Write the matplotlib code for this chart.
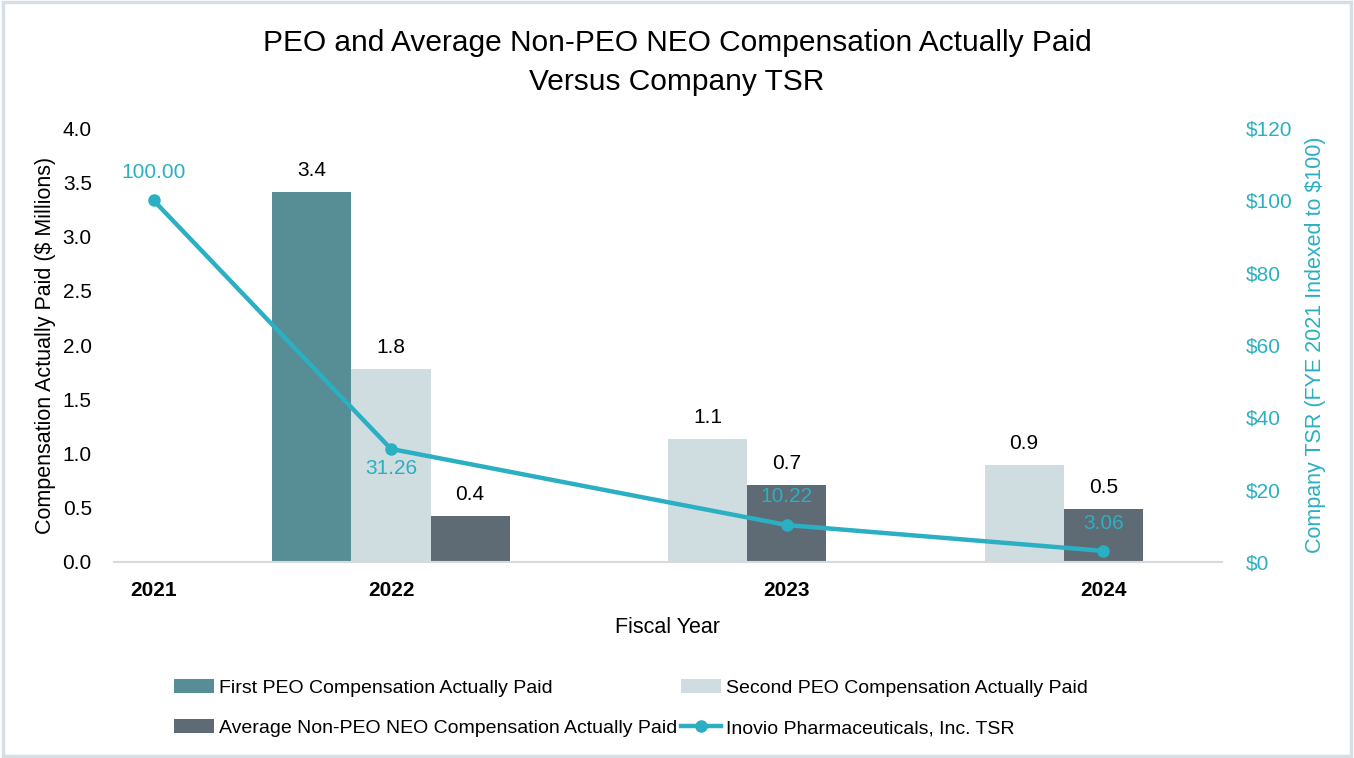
import matplotlib.pyplot as plt
from matplotlib.patches import Rectangle

plt.rcParams['font.family'] = ['Liberation Sans', 'DejaVu Sans']

# Data
years = ['2021', '2022', '2023', '2024']
first_peo = [None, 3.41, None, None]
second_peo = [None, 1.78, 1.13, 0.89]
avg_neo = [None, 0.42, 0.71, 0.49]
tsr = [100.00, 31.26, 10.22, 3.06]

# layout of the category axis (positions in bar widths)
year_pos = [0, 3, 8, 12]
first_pos = [None, 2, None, None]
second_pos = [None, 3, 7, 11]
avg_pos = [None, 4, 8, 12]

c_first = '#578e95'
c_second = '#cfdce0'
c_avg = '#5e6b75'
c_line = '#2bafc2'

fs = 15

fig = plt.figure(figsize=(13.54, 7.58), dpi=100)
fig.patches.append(Rectangle((0.002, 0.003), 0.996, 0.994, transform=fig.transFigure,
                             fill=False, edgecolor='#d5dfe5', linewidth=2.5))
ax = fig.add_axes([0.0842, 0.2586, 0.8183, 0.5725])
ax2 = ax.twinx()


def draw_bars(pos, vals, color, label):
    xs = [p for p, v in zip(pos, vals) if v is not None]
    hs = [v for v in vals if v is not None]
    bars = ax.bar(xs, hs, width=1.0, color=color, label=label)
    for x, h in zip(xs, hs):
        ax.text(x, h + 0.2, f'{h:.1f}', ha='center', va='center', fontsize=fs, color='black')
    return bars


b1 = draw_bars(first_pos, first_peo, c_first, 'First PEO Compensation Actually Paid')
b2 = draw_bars(second_pos, second_peo, c_second, 'Second PEO Compensation Actually Paid')
b3 = draw_bars(avg_pos, avg_neo, c_avg, 'Average Non-PEO NEO Compensation Actually Paid')

ln, = ax2.plot(year_pos, tsr, color=c_line, linewidth=3.2, marker='o', markersize=8,
               label='Inovio Pharmaceuticals, Inc. TSR')
offsets = [7.7, -5.3, 7.9, 7.7]
for x, v, off in zip(year_pos, tsr, offsets):
    ax2.text(x, v + off, f'{v:.2f}', ha='center', va='center', fontsize=fs, color=c_line)

ax.set_xlim(-0.5, 13.5)
ax.set_ylim(0, 4.0)
ax.set_yticks([0, 0.5, 1.0, 1.5, 2.0, 2.5, 3.0, 3.5, 4.0])
ax.set_yticklabels([f'{t:.1f}' for t in ax.get_yticks()], fontsize=fs)
ax2.set_ylim(0, 120)
ax2.set_yticks(range(0, 121, 20))
ax2.set_yticklabels([f'${t}' for t in range(0, 121, 20)], fontsize=fs, color=c_line)

ax.set_xticks(year_pos)
ax.set_xticklabels(years, fontsize=fs, fontweight='bold')
ax.tick_params(axis='x', length=0, pad=14)
ax.tick_params(axis='y', length=0, pad=16)
ax2.tick_params(axis='y', length=0, pad=17)

for a in (ax, ax2):
    for s in ('top', 'right', 'left'):
        a.spines[s].set_visible(False)
    a.spines['bottom'].set_color('#d9d9d9')
    a.spines['bottom'].set_linewidth(1.5)
ax2.spines['bottom'].set_visible(False)

ax.set_xlabel('Fiscal Year', fontsize=15.5, labelpad=12)
ax.set_ylabel('Compensation Actually Paid ($ Millions)', fontsize=15.5, labelpad=5)
ax2.set_ylabel('Company TSR (FYE 2021 Indexed to $100)', fontsize=15.5, color=c_line, labelpad=9)

fig.suptitle('PEO and Average Non-PEO NEO Compensation Actually Paid\nVersus Company TSR',
             fontsize=21.5, y=0.962, linespacing=1.5)

fig.legend([b1, b3, b2, ln], [b1.get_label(), b3.get_label(), b2.get_label(), ln.get_label()],
           ncol=2, loc='center', bbox_to_anchor=(0.466, 0.066), frameon=False, fontsize=14,
           handlelength=2.05, handleheight=0.75, handletextpad=0.25, columnspacing=0.2,
           labelspacing=1.15)

fig.savefig('out.png', dpi=100)
